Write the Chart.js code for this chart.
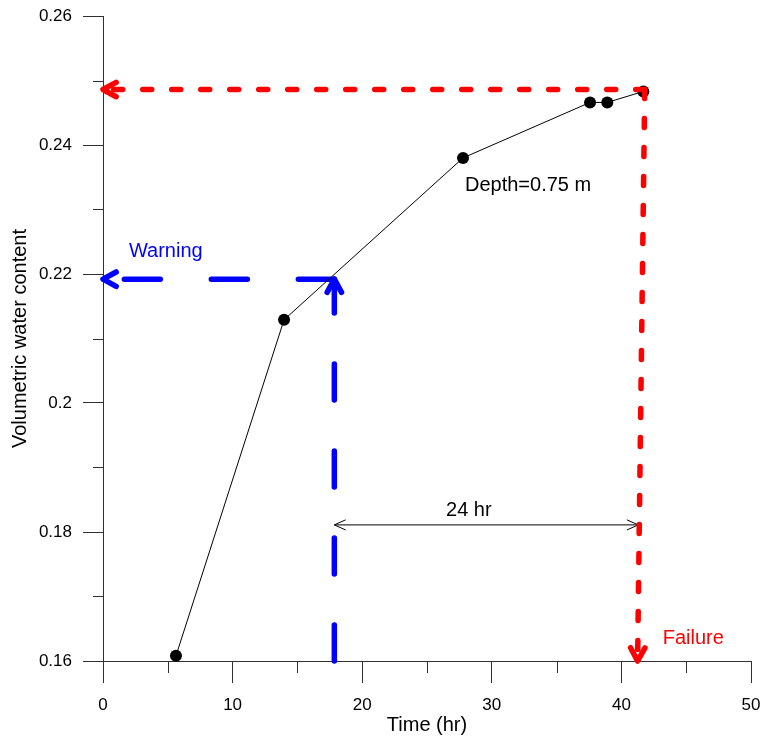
<!DOCTYPE html>
<html>
<head>
<meta charset="utf-8">
<script src="https://cdn.jsdelivr.net/npm/chart.js@4.4.1/dist/chart.umd.min.js"></script>
<style>
  body { margin: 0; background: #fff; }
  #wrap { width: 764px; height: 742px; }
</style>
</head>
<body>
<div id="wrap"><canvas id="wcChart" width="764" height="742"></canvas></div>
<script>
// measured series (depth 0.75 m)
const timeHr = [5.63, 13.97, 27.78, 37.58, 38.91, 41.69];
const waterContent = [0.1608, 0.2129, 0.2380, 0.2466, 0.2466, 0.2483];

// axis ticks
const xTickValues = [0, 10, 20, 30, 40, 50];
const xTickLabels = ['0', '10', '20', '30', '40', '50'];
const yTickValues = [0.16, 0.18, 0.2, 0.22, 0.24, 0.26];
const yTickLabels = ['0.16', '0.18', '0.2', '0.22', '0.24', '0.26'];
const xMinorTicks = [5, 15, 25, 35, 45];
const yMinorTicks = [0.17, 0.19, 0.21, 0.23, 0.25];

// guide lines (time, water content), drawn from the corner outwards
const warningHorizX = [17.85, 0];
const warningHorizY = [0.2192, 0.2192];
const warningVertX = [17.85, 17.85];
const warningVertY = [0.16, 0.2192];
const failureHorizX = [41.8, 0];
const failureHorizY = [0.2486, 0.2486];
const failureVertX = [41.8, 41.25];
const failureVertY = [0.2486, 0.16];
const spanX = [17.85, 41.3];
const spanY = [0.1811, 0.1811];

function pts(xs, ys) {
    return xs.map((x, i) => ({ x: x, y: ys[i] }));
}

const BLUE = '#0000ff';
const RED = '#ff0000';
const AXIS = '#303030';

// text notes in data coordinates (baseline)
const notes = [
    { text: 'Depth=0.75 m', x: 27.93, y: 0.2329, color: '#000' },
    { text: 'Warning', x: 2.0, y: 0.2227, color: BLUE },
    { text: '24 hr', x: 26.47, y: 0.1825, color: '#000' },
    { text: 'Failure', x: 43.19, y: 0.1626, color: RED }
];

function chevron(ctx, tip, from, len, ang) {
    const a = Math.atan2(tip.y - from.y, tip.x - from.x);
    ctx.beginPath();
    ctx.moveTo(tip.x - len * Math.cos(a - ang), tip.y - len * Math.sin(a - ang));
    ctx.lineTo(tip.x, tip.y);
    ctx.lineTo(tip.x - len * Math.cos(a + ang), tip.y - len * Math.sin(a + ang));
    ctx.stroke();
}

// drop the label overflow padding so the layout padding alone places the plot area
function noPad(s) {
    s.paddingTop = 0;
    s.paddingBottom = 0;
    s.paddingLeft = 0;
    s.paddingRight = 0;
}

const extras = {
    id: 'extras',
    beforeDatasetsDraw(chart) {
        // minor ticks
        const ctx = chart.ctx, xs = chart.scales.x, ys = chart.scales.y;
        const area = chart.chartArea;
        ctx.save();
        ctx.strokeStyle = AXIS;
        ctx.lineWidth = 1;
        ctx.beginPath();
        xMinorTicks.forEach(v => {
            const px = Math.round(xs.getPixelForValue(v)) + 0.5;
            ctx.moveTo(px, area.bottom);
            ctx.lineTo(px, area.bottom + 12);
        });
        yMinorTicks.forEach(v => {
            const py = Math.round(ys.getPixelForValue(v)) + 0.5;
            ctx.moveTo(area.left, py);
            ctx.lineTo(area.left - 10, py);
        });
        ctx.stroke();
        ctx.restore();
    },
    afterDatasetDraw(chart, args) {
        const ds = chart.data.datasets[args.index];
        if (!ds.arrow) return;
        const p = args.meta.data;
        const ctx = chart.ctx;
        ctx.save();
        ctx.strokeStyle = ds.borderColor;
        ctx.lineWidth = ds.borderWidth;
        ctx.lineCap = 'round';
        ctx.lineJoin = 'round';
        ctx.setLineDash([]);
        const n = p.length;
        if (ds.arrow.end) chevron(ctx, p[n - 1], p[n - 2], ds.arrow.len, ds.arrow.ang);
        if (ds.arrow.start) chevron(ctx, p[0], p[1], ds.arrow.len, ds.arrow.ang);
        ctx.restore();
    },
    afterDraw(chart) {
        const ctx = chart.ctx, xs = chart.scales.x, ys = chart.scales.y;
        ctx.save();
        ctx.font = '20px "Liberation Sans", Arial, sans-serif';
        ctx.textAlign = 'left';
        ctx.textBaseline = 'alphabetic';
        notes.forEach(n => {
            ctx.fillStyle = n.color;
            ctx.fillText(n.text, xs.getPixelForValue(n.x), ys.getPixelForValue(n.y));
        });
        ctx.restore();
    }
};

new Chart(document.getElementById('wcChart'), {
    type: 'scatter',
    data: {
        datasets: [{
            label: 'Depth=0.75 m',
            data: pts(timeHr, waterContent),
            showLine: true,
            borderColor: '#000',
            borderWidth: 1,
            pointRadius: 6,
            pointBackgroundColor: '#000',
            pointBorderColor: '#000',
            pointBorderWidth: 0,
            order: 1
        }, {
            data: pts(warningHorizX, warningHorizY),
            showLine: true,
            borderColor: BLUE,
            borderWidth: 5.5,
            borderDash: [36, 51],
            borderCapStyle: 'round',
            pointRadius: 0,
            arrow: { end: true, len: 15, ang: 0.5 },
            order: 2
        }, {
            data: pts(warningVertX, warningVertY),
            showLine: true,
            borderColor: BLUE,
            borderWidth: 5.5,
            borderDash: [36, 51],
            borderCapStyle: 'round',
            pointRadius: 0,
            arrow: { end: true, len: 15, ang: 0.5 },
            order: 2
        }, {
            data: pts(failureHorizX, failureHorizY),
            showLine: true,
            borderColor: RED,
            borderWidth: 5.5,
            borderDash: [9, 20],
            borderCapStyle: 'round',
            pointRadius: 0,
            arrow: { end: true, len: 15, ang: 0.5 },
            order: 0
        }, {
            data: pts(failureVertX, failureVertY),
            showLine: true,
            borderColor: RED,
            borderWidth: 5.5,
            borderDash: [9, 20],
            borderCapStyle: 'round',
            pointRadius: 0,
            arrow: { end: true, len: 15, ang: 0.5 },
            order: 0
        }, {
            data: pts(spanX, spanY),
            showLine: true,
            borderColor: '#000',
            borderWidth: 1,
            pointRadius: 0,
            arrow: { start: true, end: true, len: 12, ang: 0.42 },
            order: 1
        }]
    },
    options: {
        responsive: false,
        animation: false,
        clip: false,
        layout: { padding: { left: 0, top: 16, right: 13, bottom: 0 } },
        plugins: {
            legend: { display: false },
            tooltip: { enabled: false }
        },
        scales: {
            x: {
                type: 'linear',
                min: 0,
                max: 50,
                afterFit: s => { s.height = 81; noPad(s); },
                afterBuildTicks: s => { s.ticks = xTickValues.map(v => ({ value: v })); },
                ticks: {
                    callback: (v, i) => xTickLabels[i],
                    color: '#000',
                    padding: 12,
                    maxRotation: 0,
                    font: { family: '"Liberation Sans", Arial, sans-serif', size: 17 }
                },
                grid: { drawOnChartArea: false, tickLength: 22, color: AXIS, lineWidth: 1 },
                border: { display: true, color: AXIS, width: 1 },
                title: {
                    display: true,
                    text: 'Time (hr)',
                    color: '#000',
                    padding: { top: 0, bottom: 5 },
                    font: { family: '"Liberation Sans", Arial, sans-serif', size: 20 }
                }
            },
            y: {
                type: 'linear',
                min: 0.16,
                max: 0.26,
                afterFit: s => { s.width = 103; noPad(s); },
                afterBuildTicks: s => { s.ticks = yTickValues.map(v => ({ value: v })); },
                ticks: {
                    callback: (v, i) => yTickLabels[i],
                    color: '#000',
                    padding: 11,
                    font: { family: '"Liberation Sans", Arial, sans-serif', size: 17 }
                },
                grid: { drawOnChartArea: false, tickLength: 20, color: AXIS, lineWidth: 1 },
                border: { display: true, color: AXIS, width: 1 },
                title: {
                    display: true,
                    text: 'Volumetric water content',
                    color: '#000',
                    padding: { top: 8, bottom: 0 },
                    font: { family: '"Liberation Sans", Arial, sans-serif', size: 20 }
                }
            }
        }
    },
    plugins: [extras]
});
</script>
</body>
</html>
